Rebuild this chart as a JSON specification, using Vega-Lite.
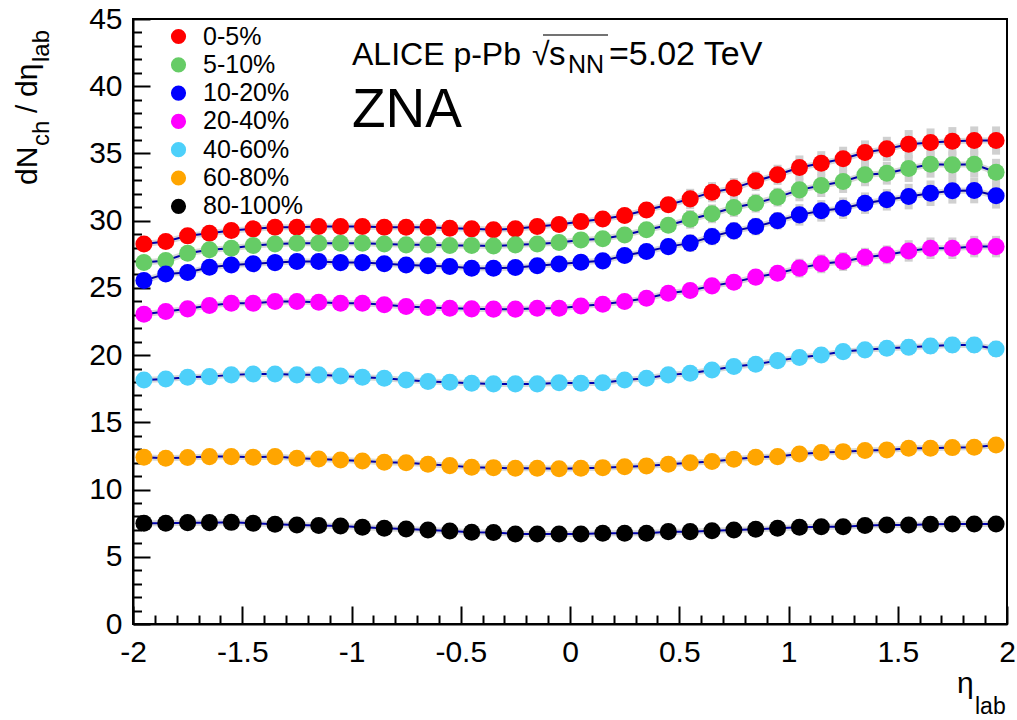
{
"$schema": "https://vega.github.io/schema/vega-lite/v6.json",
"width": 874, "height": 605,
"autosize": {"type": "none"},
"padding": {"left": 133, "top": 19, "right": 10, "bottom": 96},
"background": "white",
"config": {"view": {"stroke": "black", "strokeWidth": 2}, "font": "Liberation Sans", "text": {"font": "Liberation Sans", "color": "black"}},
"resolve": {"axis": {"x": "independent", "y": "independent"}},
"datasets": {"d": [
{"c":"0-5%","eta":-1.95,"v":28.27,"e":0.55},{"c":"0-5%","eta":-1.85,"v":28.45,"e":0.55},{"c":"0-5%","eta":-1.75,"v":28.87,"e":0.55},{"c":"0-5%","eta":-1.65,"v":29.07,"e":0.55},{"c":"0-5%","eta":-1.55,"v":29.27,"e":0.55},{"c":"0-5%","eta":-1.45,"v":29.39,"e":0.55},{"c":"0-5%","eta":-1.35,"v":29.51,"e":0.55},{"c":"0-5%","eta":-1.25,"v":29.51,"e":0.55},{"c":"0-5%","eta":-1.15,"v":29.56,"e":0.55},{"c":"0-5%","eta":-1.05,"v":29.56,"e":0.55},{"c":"0-5%","eta":-0.95,"v":29.56,"e":0.55},{"c":"0-5%","eta":-0.85,"v":29.51,"e":0.55},{"c":"0-5%","eta":-0.75,"v":29.51,"e":0.55},{"c":"0-5%","eta":-0.65,"v":29.51,"e":0.55},{"c":"0-5%","eta":-0.55,"v":29.44,"e":0.55},{"c":"0-5%","eta":-0.45,"v":29.39,"e":0.55},{"c":"0-5%","eta":-0.35,"v":29.32,"e":0.55},{"c":"0-5%","eta":-0.25,"v":29.39,"e":0.55},{"c":"0-5%","eta":-0.15,"v":29.56,"e":0.55},{"c":"0-5%","eta":-0.05,"v":29.72,"e":0.55},{"c":"0-5%","eta":0.05,"v":29.93,"e":0.55},{"c":"0-5%","eta":0.15,"v":30.13,"e":0.55},{"c":"0-5%","eta":0.25,"v":30.38,"e":0.55},{"c":"0-5%","eta":0.35,"v":30.80,"e":0.55},{"c":"0-5%","eta":0.45,"v":31.18,"e":0.55},{"c":"0-5%","eta":0.55,"v":31.62,"e":0.75},{"c":"0-5%","eta":0.65,"v":32.12,"e":0.75},{"c":"0-5%","eta":0.75,"v":32.42,"e":0.75},{"c":"0-5%","eta":0.85,"v":32.96,"e":0.75},{"c":"0-5%","eta":0.95,"v":33.41,"e":0.75},{"c":"0-5%","eta":1.05,"v":33.95,"e":0.9},{"c":"0-5%","eta":1.15,"v":34.27,"e":0.9},{"c":"0-5%","eta":1.25,"v":34.60,"e":0.9},{"c":"0-5%","eta":1.35,"v":35.07,"e":0.9},{"c":"0-5%","eta":1.45,"v":35.34,"e":0.9},{"c":"0-5%","eta":1.55,"v":35.69,"e":1.05},{"c":"0-5%","eta":1.65,"v":35.81,"e":1.05},{"c":"0-5%","eta":1.75,"v":35.91,"e":1.05},{"c":"0-5%","eta":1.85,"v":35.96,"e":1.05},{"c":"0-5%","eta":1.95,"v":35.96,"e":1.05},
{"c":"5-10%","eta":-1.95,"v":26.89,"e":0.5},{"c":"5-10%","eta":-1.85,"v":27.03,"e":0.5},{"c":"5-10%","eta":-1.75,"v":27.58,"e":0.5},{"c":"5-10%","eta":-1.65,"v":27.83,"e":0.5},{"c":"5-10%","eta":-1.55,"v":27.95,"e":0.5},{"c":"5-10%","eta":-1.45,"v":28.15,"e":0.5},{"c":"5-10%","eta":-1.35,"v":28.27,"e":0.5},{"c":"5-10%","eta":-1.25,"v":28.32,"e":0.5},{"c":"5-10%","eta":-1.15,"v":28.32,"e":0.5},{"c":"5-10%","eta":-1.05,"v":28.32,"e":0.5},{"c":"5-10%","eta":-0.95,"v":28.32,"e":0.5},{"c":"5-10%","eta":-0.85,"v":28.27,"e":0.5},{"c":"5-10%","eta":-0.75,"v":28.20,"e":0.5},{"c":"5-10%","eta":-0.65,"v":28.20,"e":0.5},{"c":"5-10%","eta":-0.55,"v":28.15,"e":0.5},{"c":"5-10%","eta":-0.45,"v":28.15,"e":0.5},{"c":"5-10%","eta":-0.35,"v":28.12,"e":0.5},{"c":"5-10%","eta":-0.25,"v":28.20,"e":0.5},{"c":"5-10%","eta":-0.15,"v":28.27,"e":0.5},{"c":"5-10%","eta":-0.05,"v":28.37,"e":0.5},{"c":"5-10%","eta":0.05,"v":28.57,"e":0.5},{"c":"5-10%","eta":0.15,"v":28.65,"e":0.5},{"c":"5-10%","eta":0.25,"v":28.94,"e":0.5},{"c":"5-10%","eta":0.35,"v":29.32,"e":0.5},{"c":"5-10%","eta":0.45,"v":29.66,"e":0.5},{"c":"5-10%","eta":0.55,"v":30.10,"e":0.7},{"c":"5-10%","eta":0.65,"v":30.51,"e":0.7},{"c":"5-10%","eta":0.75,"v":30.98,"e":0.7},{"c":"5-10%","eta":0.85,"v":31.30,"e":0.7},{"c":"5-10%","eta":0.95,"v":31.75,"e":0.7},{"c":"5-10%","eta":1.05,"v":32.29,"e":0.85},{"c":"5-10%","eta":1.15,"v":32.61,"e":0.85},{"c":"5-10%","eta":1.25,"v":32.91,"e":0.85},{"c":"5-10%","eta":1.35,"v":33.41,"e":0.85},{"c":"5-10%","eta":1.45,"v":33.53,"e":0.85},{"c":"5-10%","eta":1.55,"v":33.88,"e":1.0},{"c":"5-10%","eta":1.65,"v":34.20,"e":1.0},{"c":"5-10%","eta":1.75,"v":34.15,"e":1.0},{"c":"5-10%","eta":1.85,"v":34.20,"e":1.0},{"c":"5-10%","eta":1.95,"v":33.60,"e":1.0},
{"c":"10-20%","eta":-1.95,"v":25.55,"e":0.5},{"c":"10-20%","eta":-1.85,"v":26.04,"e":0.5},{"c":"10-20%","eta":-1.75,"v":26.14,"e":0.5},{"c":"10-20%","eta":-1.65,"v":26.54,"e":0.5},{"c":"10-20%","eta":-1.55,"v":26.71,"e":0.5},{"c":"10-20%","eta":-1.45,"v":26.79,"e":0.5},{"c":"10-20%","eta":-1.35,"v":26.88,"e":0.5},{"c":"10-20%","eta":-1.25,"v":26.96,"e":0.5},{"c":"10-20%","eta":-1.15,"v":26.96,"e":0.5},{"c":"10-20%","eta":-1.05,"v":26.88,"e":0.5},{"c":"10-20%","eta":-0.95,"v":26.88,"e":0.5},{"c":"10-20%","eta":-0.85,"v":26.79,"e":0.5},{"c":"10-20%","eta":-0.75,"v":26.71,"e":0.5},{"c":"10-20%","eta":-0.65,"v":26.64,"e":0.5},{"c":"10-20%","eta":-0.55,"v":26.59,"e":0.5},{"c":"10-20%","eta":-0.45,"v":26.46,"e":0.5},{"c":"10-20%","eta":-0.35,"v":26.46,"e":0.5},{"c":"10-20%","eta":-0.25,"v":26.51,"e":0.5},{"c":"10-20%","eta":-0.15,"v":26.64,"e":0.5},{"c":"10-20%","eta":-0.05,"v":26.77,"e":0.5},{"c":"10-20%","eta":0.05,"v":26.91,"e":0.5},{"c":"10-20%","eta":0.15,"v":27.01,"e":0.5},{"c":"10-20%","eta":0.25,"v":27.41,"e":0.5},{"c":"10-20%","eta":0.35,"v":27.70,"e":0.5},{"c":"10-20%","eta":0.45,"v":28.07,"e":0.5},{"c":"10-20%","eta":0.55,"v":28.33,"e":0.65},{"c":"10-20%","eta":0.65,"v":28.82,"e":0.65},{"c":"10-20%","eta":0.75,"v":29.24,"e":0.65},{"c":"10-20%","eta":0.85,"v":29.56,"e":0.65},{"c":"10-20%","eta":0.95,"v":29.99,"e":0.65},{"c":"10-20%","eta":1.05,"v":30.43,"e":0.8},{"c":"10-20%","eta":1.15,"v":30.73,"e":0.8},{"c":"10-20%","eta":1.25,"v":30.93,"e":0.8},{"c":"10-20%","eta":1.35,"v":31.30,"e":0.8},{"c":"10-20%","eta":1.45,"v":31.55,"e":0.8},{"c":"10-20%","eta":1.55,"v":31.79,"e":0.95},{"c":"10-20%","eta":1.65,"v":32.04,"e":0.95},{"c":"10-20%","eta":1.75,"v":32.22,"e":0.95},{"c":"10-20%","eta":1.85,"v":32.24,"e":0.95},{"c":"10-20%","eta":1.95,"v":31.85,"e":0.95},
{"c":"20-40%","eta":-1.95,"v":23.04,"e":0.45},{"c":"20-40%","eta":-1.85,"v":23.24,"e":0.45},{"c":"20-40%","eta":-1.75,"v":23.44,"e":0.45},{"c":"20-40%","eta":-1.65,"v":23.69,"e":0.45},{"c":"20-40%","eta":-1.55,"v":23.86,"e":0.45},{"c":"20-40%","eta":-1.45,"v":23.86,"e":0.45},{"c":"20-40%","eta":-1.35,"v":23.98,"e":0.45},{"c":"20-40%","eta":-1.25,"v":23.98,"e":0.45},{"c":"20-40%","eta":-1.15,"v":23.93,"e":0.45},{"c":"20-40%","eta":-1.05,"v":23.86,"e":0.45},{"c":"20-40%","eta":-0.95,"v":23.86,"e":0.45},{"c":"20-40%","eta":-0.85,"v":23.74,"e":0.45},{"c":"20-40%","eta":-0.75,"v":23.61,"e":0.45},{"c":"20-40%","eta":-0.65,"v":23.54,"e":0.45},{"c":"20-40%","eta":-0.55,"v":23.49,"e":0.45},{"c":"20-40%","eta":-0.45,"v":23.44,"e":0.45},{"c":"20-40%","eta":-0.35,"v":23.42,"e":0.45},{"c":"20-40%","eta":-0.25,"v":23.42,"e":0.45},{"c":"20-40%","eta":-0.15,"v":23.49,"e":0.45},{"c":"20-40%","eta":-0.05,"v":23.49,"e":0.45},{"c":"20-40%","eta":0.05,"v":23.66,"e":0.45},{"c":"20-40%","eta":0.15,"v":23.79,"e":0.45},{"c":"20-40%","eta":0.25,"v":23.98,"e":0.45},{"c":"20-40%","eta":0.35,"v":24.23,"e":0.45},{"c":"20-40%","eta":0.45,"v":24.60,"e":0.45},{"c":"20-40%","eta":0.55,"v":24.80,"e":0.55},{"c":"20-40%","eta":0.65,"v":25.15,"e":0.55},{"c":"20-40%","eta":0.75,"v":25.42,"e":0.55},{"c":"20-40%","eta":0.85,"v":25.80,"e":0.55},{"c":"20-40%","eta":0.95,"v":26.09,"e":0.55},{"c":"20-40%","eta":1.05,"v":26.47,"e":0.7},{"c":"20-40%","eta":1.15,"v":26.79,"e":0.7},{"c":"20-40%","eta":1.25,"v":26.96,"e":0.7},{"c":"20-40%","eta":1.35,"v":27.28,"e":0.7},{"c":"20-40%","eta":1.45,"v":27.46,"e":0.7},{"c":"20-40%","eta":1.55,"v":27.75,"e":0.8},{"c":"20-40%","eta":1.65,"v":27.95,"e":0.8},{"c":"20-40%","eta":1.75,"v":27.95,"e":0.8},{"c":"20-40%","eta":1.85,"v":28.07,"e":0.8},{"c":"20-40%","eta":1.95,"v":28.07,"e":0.8},
{"c":"40-60%","eta":-1.95,"v":18.15,"e":0.35},{"c":"40-60%","eta":-1.85,"v":18.23,"e":0.35},{"c":"40-60%","eta":-1.75,"v":18.35,"e":0.35},{"c":"40-60%","eta":-1.65,"v":18.40,"e":0.35},{"c":"40-60%","eta":-1.55,"v":18.53,"e":0.35},{"c":"40-60%","eta":-1.45,"v":18.60,"e":0.35},{"c":"40-60%","eta":-1.35,"v":18.60,"e":0.35},{"c":"40-60%","eta":-1.25,"v":18.53,"e":0.35},{"c":"40-60%","eta":-1.15,"v":18.53,"e":0.35},{"c":"40-60%","eta":-1.05,"v":18.45,"e":0.35},{"c":"40-60%","eta":-0.95,"v":18.35,"e":0.35},{"c":"40-60%","eta":-0.85,"v":18.28,"e":0.35},{"c":"40-60%","eta":-0.75,"v":18.15,"e":0.35},{"c":"40-60%","eta":-0.65,"v":18.03,"e":0.35},{"c":"40-60%","eta":-0.55,"v":17.98,"e":0.35},{"c":"40-60%","eta":-0.45,"v":17.91,"e":0.35},{"c":"40-60%","eta":-0.35,"v":17.86,"e":0.35},{"c":"40-60%","eta":-0.25,"v":17.86,"e":0.35},{"c":"40-60%","eta":-0.15,"v":17.86,"e":0.35},{"c":"40-60%","eta":-0.05,"v":17.95,"e":0.35},{"c":"40-60%","eta":0.05,"v":17.91,"e":0.35},{"c":"40-60%","eta":0.15,"v":17.95,"e":0.35},{"c":"40-60%","eta":0.25,"v":18.15,"e":0.35},{"c":"40-60%","eta":0.35,"v":18.28,"e":0.35},{"c":"40-60%","eta":0.45,"v":18.53,"e":0.35},{"c":"40-60%","eta":0.55,"v":18.65,"e":0.45},{"c":"40-60%","eta":0.65,"v":18.90,"e":0.45},{"c":"40-60%","eta":0.75,"v":19.15,"e":0.45},{"c":"40-60%","eta":0.85,"v":19.32,"e":0.45},{"c":"40-60%","eta":0.95,"v":19.59,"e":0.45},{"c":"40-60%","eta":1.05,"v":19.82,"e":0.55},{"c":"40-60%","eta":1.15,"v":20.01,"e":0.55},{"c":"40-60%","eta":1.25,"v":20.26,"e":0.55},{"c":"40-60%","eta":1.35,"v":20.39,"e":0.55},{"c":"40-60%","eta":1.45,"v":20.51,"e":0.55},{"c":"40-60%","eta":1.55,"v":20.59,"e":0.6},{"c":"40-60%","eta":1.65,"v":20.68,"e":0.6},{"c":"40-60%","eta":1.75,"v":20.76,"e":0.6},{"c":"40-60%","eta":1.85,"v":20.76,"e":0.6},{"c":"40-60%","eta":1.95,"v":20.46,"e":0.6},
{"c":"60-80%","eta":-1.95,"v":12.40,"e":0.25},{"c":"60-80%","eta":-1.85,"v":12.33,"e":0.25},{"c":"60-80%","eta":-1.75,"v":12.38,"e":0.25},{"c":"60-80%","eta":-1.65,"v":12.45,"e":0.25},{"c":"60-80%","eta":-1.55,"v":12.45,"e":0.25},{"c":"60-80%","eta":-1.45,"v":12.40,"e":0.25},{"c":"60-80%","eta":-1.35,"v":12.45,"e":0.25},{"c":"60-80%","eta":-1.25,"v":12.33,"e":0.25},{"c":"60-80%","eta":-1.15,"v":12.28,"e":0.25},{"c":"60-80%","eta":-1.05,"v":12.20,"e":0.25},{"c":"60-80%","eta":-0.95,"v":12.13,"e":0.25},{"c":"60-80%","eta":-0.85,"v":12.03,"e":0.25},{"c":"60-80%","eta":-0.75,"v":12.00,"e":0.25},{"c":"60-80%","eta":-0.65,"v":11.88,"e":0.25},{"c":"60-80%","eta":-0.55,"v":11.78,"e":0.25},{"c":"60-80%","eta":-0.45,"v":11.66,"e":0.25},{"c":"60-80%","eta":-0.35,"v":11.63,"e":0.25},{"c":"60-80%","eta":-0.25,"v":11.58,"e":0.25},{"c":"60-80%","eta":-0.15,"v":11.58,"e":0.25},{"c":"60-80%","eta":-0.05,"v":11.55,"e":0.25},{"c":"60-80%","eta":0.05,"v":11.58,"e":0.25},{"c":"60-80%","eta":0.15,"v":11.63,"e":0.25},{"c":"60-80%","eta":0.25,"v":11.70,"e":0.25},{"c":"60-80%","eta":0.35,"v":11.76,"e":0.25},{"c":"60-80%","eta":0.45,"v":11.88,"e":0.25},{"c":"60-80%","eta":0.55,"v":12.00,"e":0.3},{"c":"60-80%","eta":0.65,"v":12.08,"e":0.3},{"c":"60-80%","eta":0.75,"v":12.25,"e":0.3},{"c":"60-80%","eta":0.85,"v":12.40,"e":0.3},{"c":"60-80%","eta":0.95,"v":12.45,"e":0.3},{"c":"60-80%","eta":1.05,"v":12.65,"e":0.35},{"c":"60-80%","eta":1.15,"v":12.75,"e":0.35},{"c":"60-80%","eta":1.25,"v":12.82,"e":0.35},{"c":"60-80%","eta":1.35,"v":12.90,"e":0.35},{"c":"60-80%","eta":1.45,"v":12.95,"e":0.35},{"c":"60-80%","eta":1.55,"v":13.07,"e":0.4},{"c":"60-80%","eta":1.65,"v":13.07,"e":0.4},{"c":"60-80%","eta":1.75,"v":13.12,"e":0.4},{"c":"60-80%","eta":1.85,"v":13.15,"e":0.4},{"c":"60-80%","eta":1.95,"v":13.32,"e":0.4},
{"c":"80-100%","eta":-1.95,"v":7.49,"e":0.15},{"c":"80-100%","eta":-1.85,"v":7.49,"e":0.15},{"c":"80-100%","eta":-1.75,"v":7.54,"e":0.15},{"c":"80-100%","eta":-1.65,"v":7.54,"e":0.15},{"c":"80-100%","eta":-1.55,"v":7.56,"e":0.15},{"c":"80-100%","eta":-1.45,"v":7.49,"e":0.15},{"c":"80-100%","eta":-1.35,"v":7.42,"e":0.15},{"c":"80-100%","eta":-1.25,"v":7.37,"e":0.15},{"c":"80-100%","eta":-1.15,"v":7.32,"e":0.15},{"c":"80-100%","eta":-1.05,"v":7.29,"e":0.15},{"c":"80-100%","eta":-0.95,"v":7.19,"e":0.15},{"c":"80-100%","eta":-0.85,"v":7.12,"e":0.15},{"c":"80-100%","eta":-0.75,"v":7.07,"e":0.15},{"c":"80-100%","eta":-0.65,"v":6.99,"e":0.15},{"c":"80-100%","eta":-0.55,"v":6.92,"e":0.15},{"c":"80-100%","eta":-0.45,"v":6.82,"e":0.15},{"c":"80-100%","eta":-0.35,"v":6.80,"e":0.15},{"c":"80-100%","eta":-0.25,"v":6.70,"e":0.15},{"c":"80-100%","eta":-0.15,"v":6.70,"e":0.15},{"c":"80-100%","eta":-0.05,"v":6.70,"e":0.15},{"c":"80-100%","eta":0.05,"v":6.70,"e":0.15},{"c":"80-100%","eta":0.15,"v":6.75,"e":0.15},{"c":"80-100%","eta":0.25,"v":6.75,"e":0.15},{"c":"80-100%","eta":0.35,"v":6.75,"e":0.15},{"c":"80-100%","eta":0.45,"v":6.87,"e":0.15},{"c":"80-100%","eta":0.55,"v":6.87,"e":0.18},{"c":"80-100%","eta":0.65,"v":6.94,"e":0.18},{"c":"80-100%","eta":0.75,"v":6.99,"e":0.18},{"c":"80-100%","eta":0.85,"v":7.04,"e":0.18},{"c":"80-100%","eta":0.95,"v":7.12,"e":0.18},{"c":"80-100%","eta":1.05,"v":7.19,"e":0.2},{"c":"80-100%","eta":1.15,"v":7.24,"e":0.2},{"c":"80-100%","eta":1.25,"v":7.24,"e":0.2},{"c":"80-100%","eta":1.35,"v":7.32,"e":0.2},{"c":"80-100%","eta":1.45,"v":7.37,"e":0.2},{"c":"80-100%","eta":1.55,"v":7.37,"e":0.22},{"c":"80-100%","eta":1.65,"v":7.42,"e":0.22},{"c":"80-100%","eta":1.75,"v":7.44,"e":0.22},{"c":"80-100%","eta":1.85,"v":7.44,"e":0.22},{"c":"80-100%","eta":1.95,"v":7.44,"e":0.22}
]},
"layer": [
 {
  "data": {"name": "d"},
  "encoding": {
    "x": {"field": "eta", "type": "quantitative", "scale": {"domain": [-2, 2], "nice": false, "zero": false},
      "axis": {"title": null, "grid": false,
        "values": [-2,-1.9,-1.8,-1.7,-1.6,-1.5,-1.4,-1.3,-1.2,-1.1,-1,-0.9,-0.8,-0.7,-0.6,-0.5,-0.4,-0.3,-0.2,-0.1,0,0.1,0.2,0.3,0.4,0.5,0.6,0.7,0.8,0.9,1,1.1,1.2,1.3,1.4,1.5,1.6,1.7,1.8,1.9,2],
        "labelExpr": "abs(round(datum.value*10))%5==0 ? (datum.value<0 ? '-' : '') + format(abs(datum.value), '.1~f') : ''",
        "labelFont": "Liberation Sans", "labelFontSize": 30, "labelColor": "black", "labelPadding": 31,
        "labelOverlap": false, "labelFlush": false, "labelBound": false,
        "tickSize": {"condition": {"test": "abs(round(datum.value*10))%5==0", "value": -18}, "value": -9},
        "tickColor": "black", "tickWidth": 2, "domainColor": "black", "domainWidth": 2}},
    "y": {"field": "v", "type": "quantitative", "scale": {"domain": [0, 45], "nice": false, "zero": false},
      "axis": {"title": null, "grid": false,
        "values": [0,1,2,3,4,5,6,7,8,9,10,11,12,13,14,15,16,17,18,19,20,21,22,23,24,25,26,27,28,29,30,31,32,33,34,35,36,37,38,39,40,41,42,43,44,45],
        "labelExpr": "datum.value%5==0 ? format(datum.value, 'd') : ''",
        "labelFont": "Liberation Sans", "labelFontSize": 30, "labelColor": "black", "labelPadding": 28,
        "labelOverlap": false, "labelFlush": false, "labelBound": false,
        "tickSize": {"condition": {"test": "datum.value%5==0", "value": -17}, "value": -8.5},
        "tickColor": "black", "tickWidth": 2, "domainColor": "black", "domainWidth": 2}}
  },
  "layer": [
    {"mark": {"type": "errorbar", "thickness": 8, "color": "#d0d0d0"},
     "encoding": {"yError": {"field": "e"}, "detail": {"field": "c"}}},
    {"mark": {"type": "line", "color": "#d8d8d8", "strokeWidth": 6},
     "encoding": {"detail": {"field": "c"}}},
    {"mark": {"type": "line", "color": "#0000aa", "strokeWidth": 2},
     "encoding": {"detail": {"field": "c"}}},
    {"mark": {"type": "circle", "size": 290, "opacity": 1},
     "encoding": {"color": {"field": "c", "type": "nominal",
       "scale": {"domain": ["0-5%","5-10%","10-20%","20-40%","40-60%","60-80%","80-100%"],
                 "range": ["#ff0000","#66cc66","#0000ff","#ff00ff","#4dd0fa","#ffa500","#000000"]},
       "legend": {"orient": "none", "legendX": 33, "legendY": 5, "title": null, "symbolType": "circle",
         "symbolSize": 230, "symbolOpacity": 1, "symbolStrokeWidth": 0, "labelFont": "Liberation Sans",
         "labelFontSize": 25, "labelColor": "black", "rowPadding": 2.3, "labelOffset": 12, "padding": 0}}}}
  ]
 },
 {"data": {"values": [{}]}, "mark": {"type": "text", "text": "ALICE p-Pb", "fontSize": 32, "align": "left", "baseline": "alphabetic"},
  "encoding": {"x": {"datum": -0.9977, "type": "quantitative", "axis": null}, "y": {"datum": 41.58, "type": "quantitative", "axis": null}}},
 {"data": {"values": [{}]}, "mark": {"type": "text", "text": "√", "fontSize": 32, "align": "left", "baseline": "alphabetic", "dx": 180},
  "encoding": {"x": {"datum": -0.9977, "type": "quantitative", "axis": null}, "y": {"datum": 41.58, "type": "quantitative", "axis": null}}},
 {"data": {"values": [{}]}, "mark": {"type": "text", "text": "s", "fontSize": 33, "align": "left", "baseline": "alphabetic", "dx": 197},
  "encoding": {"x": {"datum": -0.9977, "type": "quantitative", "axis": null}, "y": {"datum": 41.58, "type": "quantitative", "axis": null}}},
 {"data": {"values": [{}]}, "mark": {"type": "text", "text": "NN", "fontSize": 25, "align": "left", "baseline": "alphabetic", "dx": 216, "dy": 8},
  "encoding": {"x": {"datum": -0.9977, "type": "quantitative", "axis": null}, "y": {"datum": 41.58, "type": "quantitative", "axis": null}}},
 {"data": {"values": [{}]}, "mark": {"type": "text", "text": "=5.02 TeV", "fontSize": 34, "align": "left", "baseline": "alphabetic", "dx": 257},
  "encoding": {"x": {"datum": -0.9977, "type": "quantitative", "axis": null}, "y": {"datum": 41.58, "type": "quantitative", "axis": null}}},
 {"data": {"values": [{}]}, "mark": {"type": "rule", "strokeWidth": 1.5, "color": "#444444"},
  "encoding": {"x": {"datum": -0.1236, "type": "quantitative", "axis": null}, "x2": {"datum": 0.1739}, "y": {"datum": 43.81, "type": "quantitative", "axis": null}}},
 {"data": {"values": [{}]}, "mark": {"type": "text", "text": "ZNA", "fontSize": 55, "align": "left", "baseline": "alphabetic"},
  "encoding": {"x": {"datum": -0.9977, "type": "quantitative", "axis": null}, "y": {"datum": 36.97, "type": "quantitative", "axis": null}}},
 {"data": {"values": [{}]}, "mark": {"type": "text", "text": "dN", "fontSize": 30, "angle": 270, "align": "left", "baseline": "alphabetic"},
  "encoding": {"x": {"datum": -2.4394, "type": "quantitative", "axis": null}, "y": {"datum": 32.65, "type": "quantitative", "axis": null}}},
 {"data": {"values": [{}]}, "mark": {"type": "text", "text": "ch", "fontSize": 24, "angle": 270, "align": "left", "baseline": "alphabetic", "dx": 39, "dy": 12},
  "encoding": {"x": {"datum": -2.4394, "type": "quantitative", "axis": null}, "y": {"datum": 32.65, "type": "quantitative", "axis": null}}},
 {"data": {"values": [{}]}, "mark": {"type": "text", "text": "/", "fontSize": 30, "angle": 270, "align": "left", "baseline": "alphabetic", "dx": 72},
  "encoding": {"x": {"datum": -2.4394, "type": "quantitative", "axis": null}, "y": {"datum": 32.65, "type": "quantitative", "axis": null}}},
 {"data": {"values": [{}]}, "mark": {"type": "text", "text": "dη", "fontSize": 30, "angle": 270, "align": "left", "baseline": "alphabetic", "dx": 88},
  "encoding": {"x": {"datum": -2.4394, "type": "quantitative", "axis": null}, "y": {"datum": 32.65, "type": "quantitative", "axis": null}}},
 {"data": {"values": [{}]}, "mark": {"type": "text", "text": "lab", "fontSize": 24, "angle": 270, "align": "left", "baseline": "alphabetic", "dx": 123, "dy": 12},
  "encoding": {"x": {"datum": -2.4394, "type": "quantitative", "axis": null}, "y": {"datum": 32.65, "type": "quantitative", "axis": null}}},
 {"data": {"values": [{}]}, "mark": {"type": "text", "text": "η", "fontSize": 30, "align": "left", "baseline": "alphabetic"},
  "encoding": {"x": {"datum": 1.7712, "type": "quantitative", "axis": null}, "y": {"datum": -5.13, "type": "quantitative", "axis": null}}},
 {"data": {"values": [{}]}, "mark": {"type": "text", "text": "lab", "fontSize": 23, "align": "left", "baseline": "alphabetic", "dx": 18, "dy": 21},
  "encoding": {"x": {"datum": 1.7712, "type": "quantitative", "axis": null}, "y": {"datum": -5.13, "type": "quantitative", "axis": null}}}
]
}
